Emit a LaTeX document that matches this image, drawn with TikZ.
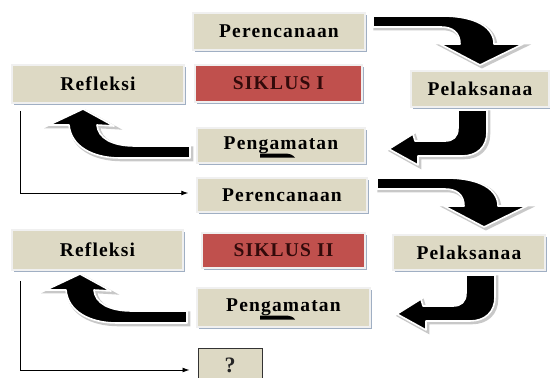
\documentclass[tikz,border=0pt]{standalone}
\usepackage{fontspec}
\setmainfont{Liberation Serif}
\newfontfamily\cardfont[LetterSpace=6]{Liberation Serif}
\usetikzlibrary{shadows,arrows.meta}

\definecolor{beige}{RGB}{221,217,196}
\definecolor{siklusred}{RGB}{192,80,77}
\definecolor{siklustext}{RGB}{50,10,10}
\definecolor{edgegrey}{RGB}{240,240,240}
\definecolor{shadowblue}{RGB}{150,166,188}
\definecolor{arrowshade}{RGB}{200,200,200}

\tikzset{
  card/.style={rectangle, fill=beige, draw=edgegrey, line width=1.5pt, inner sep=0pt,
    font=\cardfont\bfseries\fontsize{19.5}{22}\selectfont, text=black,
    drop shadow={shadow xshift=1.5pt, shadow yshift=-2pt, fill=shadowblue, opacity=0.9}},
  redcard/.style={card, fill=siklusred, text=siklustext},
  askcard/.style={rectangle, fill=beige, draw=black!80, line width=1pt, inner sep=0pt,
    font=\cardfont\bfseries\fontsize{22}{24}\selectfont, text=black!85},
  blockarrow/.style={fill=black, draw=white, line width=1.6pt, line join=round,
    preaction={fill=arrowshade, draw=arrowshade, line width=3pt,
      transform canvas={shift={(1.8pt,-1.8pt)}}}},
  feedback/.style={draw=black, line width=0.9pt, -{Latex[length=7pt,width=5pt]}},
  blob/.style={fill=black},
  % arrow turning from a row to the box below on its right
  turnright/.pic={
    \path[blockarrow] (373,16) -- (442,16)
      .. controls (477,16) and (494,28) .. (494,44) -- (523,44) -- (480,65) -- (440,44) -- (460,44)
      .. controls (460,33) and (453,27) .. (441,27) -- (373,27) -- cycle;
  },
  % arrow coming down and turning back to the left
  turnback/.pic={
    \path[blockarrow] (458,110) -- (487,110) -- (487,132)
      .. controls (487,147) and (477,156) .. (462,156) -- (418,156) -- (418,165) -- (389,149)
      -- (413,134) -- (415,141) -- (445,141)
      .. controls (453,141) and (458,137) .. (458,128) -- cycle;
  },
  % arrow running left and turning up into the box above
  turnup/.pic={
    \path[blockarrow] (190,146) -- (135,146)
      .. controls (112,146) and (98,138) .. (97,125) -- (114,126) -- (83,109) -- (49,125)
      -- (69,125) .. controls (71,146) and (92,158) .. (120,158) -- (190,158) -- cycle;
  },
}

\begin{document}
\begin{tikzpicture}[x=1pt,y=-1pt]
\useasboundingbox (0,0) rectangle (550,378);

% cycle I
\node[card, minimum width=172pt, minimum height=37pt] (per1) at (279,31.5) {Perencanaan};
\node[redcard, minimum width=167pt, minimum height=37pt] (sik1) at (278.5,83.5) {SIKLUS I};
\node[card, minimum width=138pt, minimum height=36pt] (pel1) at (480,89) {Pelaksanaa};
\node[card, minimum width=168pt, minimum height=35pt] (pen1) at (281,145.5) {Pengamatan};
\node[card, minimum width=172pt, minimum height=38pt] (ref1) at (98,84) {Refleksi};

% cycle II
\node[card, minimum width=170pt, minimum height=34pt] (per2) at (282,195) {Perencanaan};
\node[redcard, minimum width=163pt, minimum height=35pt] (sik2) at (283.5,250.5) {SIKLUS II};
\node[card, minimum width=152pt, minimum height=35pt] (pel2) at (469,252.5) {Pelaksanaa};
\node[card, minimum width=173pt, minimum height=39pt] (pen2) at (283.5,307.5) {Pengamatan};
\node[card, minimum width=171pt, minimum height=40pt] (ref2) at (97.5,250) {Refleksi};

% next step
\node[askcard, minimum width=64pt, minimum height=34pt] (ask) at (230,365) {?};

% small marks under the observation labels
\path[blob, shift={(pen1.center)}] (-21,12) -- (-21,8) -- (3,8)
  .. controls (9,8) and (12,9.5) .. (14,12) -- cycle;
\path[blob, shift={(pen2.center)}] (-23.5,12) -- (-23.5,8) -- (1,8)
  .. controls (7,8) and (10,9.5) .. (11.5,12) -- cycle;

% block arrows of the two cycles
\pic at (0,0) {turnright};
\pic at (4,162) {turnright};
\pic at (0,0) {turnback};
\pic at (8,165) {turnback};
\pic at (0,0) {turnup};
\pic at (-3,165) {turnup};

% feedback lines from reflection to the next planning
\draw[feedback] ([xshift=9pt,yshift=-7pt]ref1.south west) |- ([xshift=-8pt,yshift=2pt]per2.west);
\draw[feedback] ([xshift=9pt,yshift=-10pt]ref2.south west) |- ([xshift=-8pt,yshift=-5pt]ask.west);
\end{tikzpicture}
\end{document}
